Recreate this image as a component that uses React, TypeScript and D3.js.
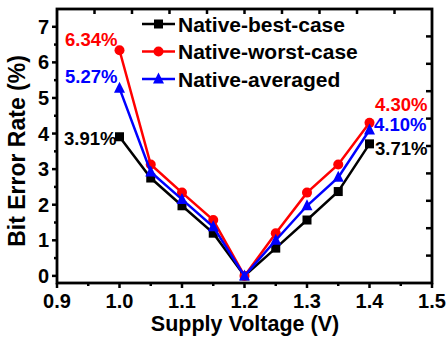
import React from "react";
import * as d3 from "d3";

// Supply voltage sweep (V)
const voltages = [1.0, 1.05, 1.1, 1.15, 1.2, 1.25, 1.3, 1.35, 1.4];

// Bit error rate (%) per scenario
const bestCase = [3.91, 2.75, 1.97, 1.2, 0, 0.78, 1.57, 2.37, 3.71];
const worstCase = [6.34, 3.13, 2.34, 1.57, 0, 1.2, 2.34, 3.13, 4.3];
const averaged = [5.27, 2.92, 2.15, 1.38, 0, 1.0, 1.97, 2.77, 4.1];

const seriesNames = ["Native-best-case", "Native-worst-case", "Native-averaged"];
const seriesColors = ["#000000", "#ff0000", "#0000ff"];
const seriesMarkers = ["square", "circle", "triangle"];

const xTicks = [0.9, 1.0, 1.1, 1.2, 1.3, 1.4, 1.5];
const yTicks = [0, 1, 2, 3, 4, 5, 6, 7];

// Value callouts: [series index, point index, text]
const callouts: [number, number, string][] = [
  [1, 0, "6.34%"],
  [2, 0, "5.27%"],
  [0, 0, "3.91%"],
  [1, 8, "4.30%"],
  [2, 8, "4.10%"],
  [0, 8, "3.71%"],
];

const W = 446;
const H = 339;
const left = 57;
const right = 432;
const top = 9;
const bottom = 283;
const FONT = "Arial, 'Liberation Sans', sans-serif";

function Marker({ kind, x, y, color }: { kind: string; x: number; y: number; color: string }) {
  if (kind === "square") return <rect x={x - 4.5} y={y - 4.5} width={9} height={9} fill={color} />;
  if (kind === "circle") return <circle cx={x} cy={y} r={5} fill={color} />;
  const s = 5.5;
  return (
    <path
      d={`M${x},${y - s - 1}L${x + s},${y + s - 1}L${x - s},${y + s - 1}Z`}
      fill={color}
    />
  );
}

export default function App() {
  const x = d3.scaleLinear().domain([0.9, 1.5]).range([left, right]);
  const y = d3.scaleLinear().domain([-0.2, 7.5]).range([bottom, top]);
  const data = [bestCase, worstCase, averaged];
  const line = d3
    .line<number>()
    .x((_, i) => x(voltages[i]))
    .y((d) => y(d));

  const xMinor = d3.range(0.95, 1.5, 0.1);
  const yMinor = d3.range(0.5, 7.5, 1);
  const mirror = d3.range(1, 10);

  // callout offsets from the labelled point: left-side labels sit to the left of 1.0 V,
  // right-side labels just right of 1.4 V
  const calloutPos: Record<string, [number, number]> = {
    "6.34%": [65, 46],
    "5.27%": [65, 83],
    "3.91%": [64, 145],
    "4.30%": [375, 111],
    "4.10%": [374, 131],
    "3.71%": [375, 155],
  };

  return (
    <svg
      width={W}
      height={H}
      style={{ position: "absolute", left: 0, top: 0, background: "#fff" }}
      fontFamily={FONT}
      fontWeight="bold"
    >
      {/* series */}
      {data.map((vals, si) => (
        <g key={si}>
          <path d={line(vals) || ""} fill="none" stroke={seriesColors[si]} strokeWidth={2.5} />
          {vals.map((v, i) => (
            <Marker key={i} kind={seriesMarkers[si]} x={x(voltages[i])} y={y(v)} color={seriesColors[si]} />
          ))}
        </g>
      ))}

      {/* frame */}
      <rect x={left} y={top} width={right - left} height={bottom - top} fill="none" stroke="#000" strokeWidth={2.8} />

      {/* bottom axis ticks */}
      {xTicks.map((t) => (
        <g key={t}>
          <line x1={x(t)} x2={x(t)} y1={bottom} y2={bottom + 5} stroke="#000" strokeWidth={2.5} />
          <text x={x(t)} y={308} textAnchor="middle" fontSize={20}>
            {t.toFixed(1)}
          </text>
        </g>
      ))}
      {xMinor.map((t) => (
        <line key={t} x1={x(t)} x2={x(t)} y1={bottom} y2={bottom + 3} stroke="#000" strokeWidth={2.5} />
      ))}

      {/* left axis ticks */}
      {yTicks.map((t) => (
        <g key={t}>
          <line x1={left - 5} x2={left} y1={y(t)} y2={y(t)} stroke="#000" strokeWidth={2.5} />
          <text x={49} y={y(t)} dy="0.35em" textAnchor="end" fontSize={20}>
            {t}
          </text>
        </g>
      ))}
      {yMinor.map((t) => (
        <line key={t} x1={left - 3} x2={left} y1={y(t)} y2={y(t)} stroke="#000" strokeWidth={2.5} />
      ))}

      {/* mirrored top and right ticks */}
      {mirror.map((k) => (
        <g key={k}>
          <line
            x1={left + ((right - left) * k) / 10}
            x2={left + ((right - left) * k) / 10}
            y1={top}
            y2={top + 5}
            stroke="#000"
            strokeWidth={2.5}
          />
          <line
            x1={right - 6}
            x2={right}
            y1={bottom - ((bottom - top) * k) / 10}
            y2={bottom - ((bottom - top) * k) / 10}
            stroke="#000"
            strokeWidth={2.5}
          />
        </g>
      ))}

      {/* axis titles */}
      <text x={245} y={331} textAnchor="middle" fontSize={21.5}>
        Supply Voltage (V)
      </text>
      <text transform="translate(25,151) rotate(-90)" textAnchor="middle" fontSize={23}>
        Bit Error Rate (%)
      </text>

      {/* value callouts */}
      {callouts.map(([si, , txt]) => (
        <text
          key={txt}
          x={calloutPos[txt][0]}
          y={calloutPos[txt][1]}
          fontSize={18.5}
          fill={seriesColors[si]}
        >
          {txt}
        </text>
      ))}

      {/* legend */}
      {seriesNames.map((name, i) => {
        const ly = 24 + i * 27.5;
        return (
          <g key={name}>
            <line x1={142} x2={175} y1={ly} y2={ly} stroke={seriesColors[i]} strokeWidth={2.5} />
            <Marker kind={seriesMarkers[i]} x={158.5} y={ly} color={seriesColors[i]} />
            <text x={178} y={ly} dy="0.36em" fontSize={21}>
              {name}
            </text>
          </g>
        );
      })}
    </svg>
  );
}
